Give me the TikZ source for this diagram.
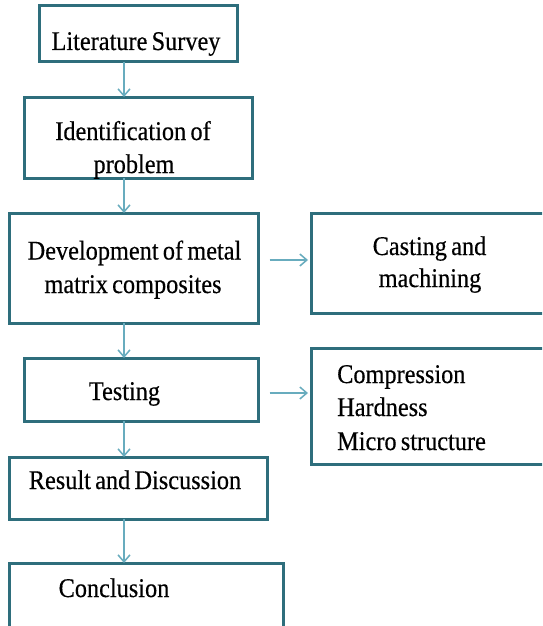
\documentclass[tikz,border=0pt]{standalone}
\usepackage{fontspec}
\setmainfont[FakeStretch=0.9,WordSpace=0.7,FakeBold=0.4]{Liberation Serif}
\usetikzlibrary{arrows.meta}
\definecolor{boxline}{RGB}{46,110,124}
\definecolor{arrline}{RGB}{104,172,190}
\tikzset{
  stepbox/.style={draw=boxline, line width=3pt, fill=none, inner sep=0pt},
  arr/.style={draw=arrline, line width=1.5pt, -{Straight Barb[length=7pt,width=12pt,line width=1.5pt]}},
  txt/.style={inner sep=0pt, font=\fontsize{27}{34}\selectfont, anchor=base},
  ltxt/.style={txt, anchor=base west}
}
\begin{document}
\begin{tikzpicture}[x=1pt,y=-1pt]
\useasboundingbox (0,0) rectangle (542,626);
\clip (0,0) rectangle (542,626);
\fill[white] (0,0) rectangle (542,626);
% boxes
\node[stepbox, minimum width=198pt, minimum height=56pt] (b1) at (138,34) {};
\node[stepbox, minimum width=228pt, minimum height=81pt] (b2) at (138,137.5) {};
\node[stepbox, minimum width=249pt, minimum height=110pt] (b3) at (133.5,268) {};
\node[stepbox, minimum width=237pt, minimum height=100pt] (b4) at (429.5,263) {};
\node[stepbox, minimum width=234pt, minimum height=63pt] (b5) at (141,389.5) {};
\node[stepbox, minimum width=237pt, minimum height=116pt] (b6) at (429.5,406) {};
\node[stepbox, minimum width=258pt, minimum height=62pt] (b7) at (138,488) {};
\node[stepbox, minimum width=274pt, minimum height=77pt] (b8) at (146,601.5) {};
% texts
\node[txt] (t1) at (136,50) {Literature Survey};
\node[txt] (t2a) at (133,140) {Identification of};
\node[txt] (t2b) at (134,173) {problem};
\node[txt] (t3a) at (134.5,259.5) {Development of metal};
\node[txt] (t3b) at (133,293) {matrix composites};
\node[txt] (t4a) at (429.5,255) {Casting and};
\node[txt] (t4b) at (430,287) {machining};
\node[txt] (t5) at (124.5,400) {Testing};
\node[ltxt] (t6a) at (337,383) {Compression};
\node[ltxt] (t6b) at (337,416) {Hardness};
\node[ltxt] (t6c) at (337,450) {Micro structure};
\node[txt] (t7) at (135,489) {Result and Discussion};
\node[txt] (t8) at (114,597) {Conclusion};
% connectors
\coordinate (ax) at (124,0);
\coordinate (h1) at (0,260);
\coordinate (h2) at (0,393);
\draw[arr] ([yshift=1.5pt]b1.south -| ax) -- ([yshift=-1.5pt]b2.north -| ax);
\draw[arr] ([yshift=1.5pt]b2.south -| ax) -- ([yshift=-1.5pt]b3.north -| ax);
\draw[arr] ([yshift=1.5pt]b3.south -| ax) -- ([yshift=-1.5pt]b5.north -| ax);
\draw[arr] ([yshift=1.5pt]b5.south -| ax) -- ([yshift=-1.5pt]b7.north -| ax);
\draw[arr] ([yshift=1.5pt]b7.south -| ax) -- ([yshift=-1.5pt]b8.north -| ax);
\draw[arr] ([xshift=10pt]b3.east |- h1) -- ([xshift=-1.5pt]b4.west |- h1);
\draw[arr] ([xshift=10pt]b5.east |- h2) -- ([xshift=-1.5pt]b6.west |- h2);
\end{tikzpicture}
\end{document}
